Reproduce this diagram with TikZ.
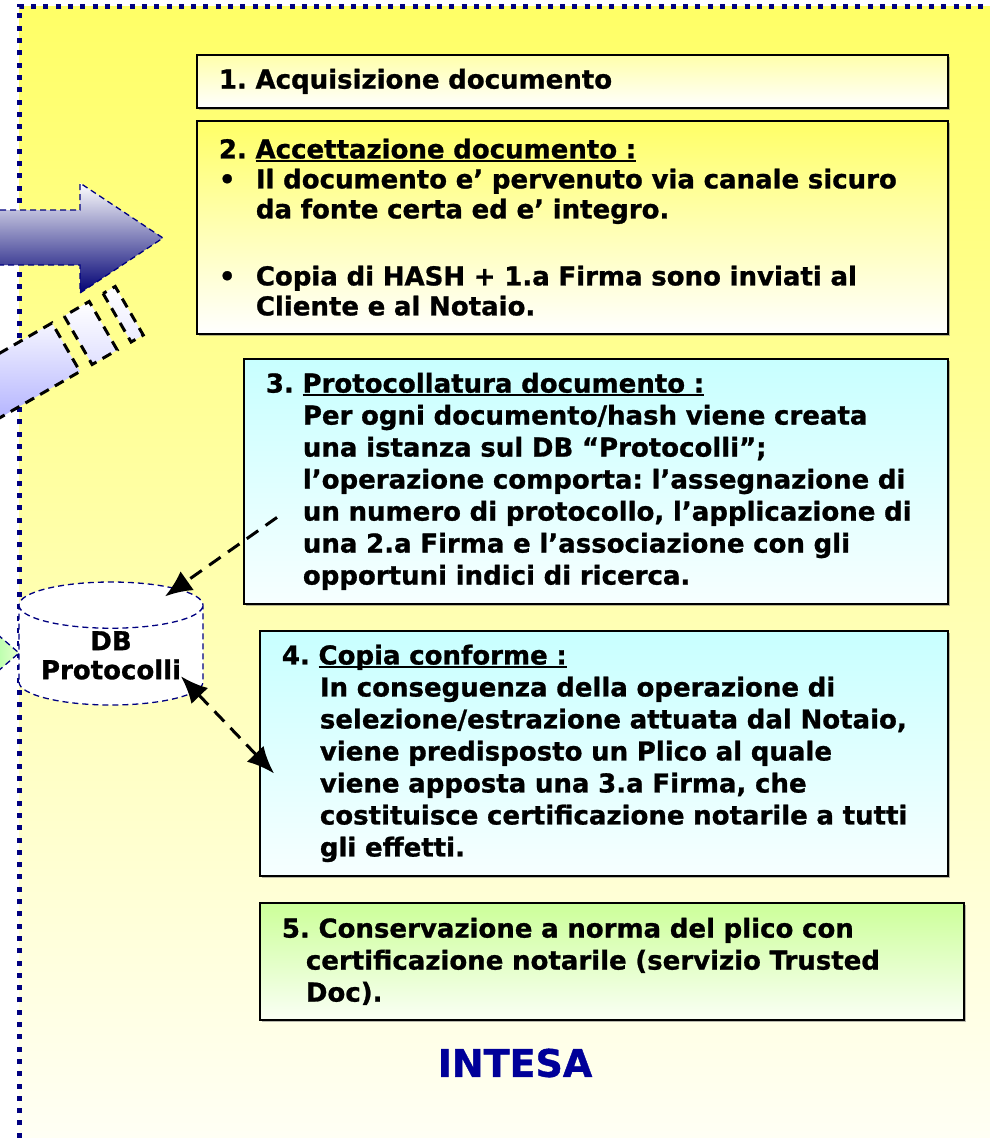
\documentclass[tikz,border=0pt]{standalone}
\usepackage{fontspec}
\setmainfont{DejaVu Sans}[BoldFeatures={FakeBold=1}]
\usetikzlibrary{shadows}
\usetikzlibrary{positioning}
\usetikzlibrary{arrows.meta}
\usetikzlibrary{shapes.geometric}
\usetikzlibrary{calc}
\frenchspacing

\definecolor{giallo}{HTML}{FFFF66}
\definecolor{gialloch}{HTML}{FFFFF6}
\definecolor{ciano}{HTML}{C8FFFF}
\definecolor{verdino}{HTML}{CCFF99}
\definecolor{blu}{HTML}{000080}
\definecolor{intesa}{HTML}{000099}

\newcommand\sotto[1]{\setbox0\hbox{#1}\rlap{\rule[-3.5pt]{\wd0}{2pt}}\box0}

\begin{document}
\begin{tikzpicture}[x=1pt, y=-1pt, box/.style={draw=black, line width=1.8pt, anchor=north west, align=left, inner xsep=22pt, inner ysep=0pt, font=\fontsize{26pt}{32pt}\selectfont\bfseries, drop shadow={shadow xshift=2pt, shadow yshift=-2pt, fill=black!55}}]
\tikzstyle{freccia}=[draw=black, line width=3pt, dash pattern=on 14pt off 9pt]
\tikzstyle{bordo}=[draw=blu, line width=1.3pt, dash pattern=on 6pt off 4pt]
\tikzstyle{fascia}=[draw=black, line width=3pt, dash pattern=on 10pt off 7pt]
\tikzstyle{testo}=[font=\fontsize{26pt}{29pt}\selectfont\bfseries]
\tikzset {>={Latex[length=27pt,width=23pt]}}

\useasboundingbox (0,0) rectangle (990,1138);
\clip (0,0) rectangle (990,1138);

% sfondo
\shade[top color=giallo, bottom color=gialloch] (19,6) rectangle (1000,1150);
\draw[blu, line width=5pt, dash pattern=on 5pt off 7.3pt] (19,1150) -- (19,6) -- (1000,6);

% frecce a sinistra
\draw[bordo, top color=white, bottom color=blu!90!black] (-10,210) -- (80,210) -- (80,183) -- (163,238) -- (80,293) -- (80,265) -- (-10,265) -- cycle;
\begin{scope}[shift={(52,323)}, rotate=30]
\draw[fascia, top color=blue!4!white, bottom color=blue!38!white] (-160,0) rectangle (0,56);
\draw[fascia, top color=white, bottom color=blue!12!white] (14,0) rectangle (43,56);
\draw[fascia, top color=white, bottom color=blue!8!white] (59,0) rectangle (73,56);
\end{scope}
\draw[bordo, left color=green!45!white, right color=verdino!50!white] (-25,615) -- (19,653) -- (-25,691);

% DB
\node (DB) [cylinder, shape border rotate=90, aspect=0.33, minimum width=184pt, minimum height=123pt, inner sep=0pt, bordo, fill=white, align=center, testo, anchor=shape center] at (111,643.5) {DB\\Protocolli};

% riquadri
\node (B1) [box, text width=707pt, minimum height=53pt, top color=giallo!55!white, bottom color=white] at (196,54) {1. Acquisizione documento};
\node (B2) [box, text width=707pt, minimum height=213pt, top color=giallo, bottom color=white, font=\fontsize{26pt}{30pt}\selectfont\bfseries, below=11pt of B1.south west, anchor=north west] {2. \sotto{Accettazione documento :}\\
\makebox[37pt][l]{•}Il documento e’ pervenuto via canale sicuro\\
\hspace*{37pt}da fonte certa ed e’ integro.\\[37pt]
\makebox[37pt][l]{•}Copia di HASH + 1.a Firma sono inviati al\\
\hspace*{37pt}Cliente e al Notaio.};
\node (B3) [box, text width=660pt, minimum height=245pt, top color=ciano, bottom color=ciano!15!white] at (243,358) {3. \sotto{Protocollatura documento :}\\
\hspace*{37pt}Per ogni documento/hash viene creata\\
\hspace*{37pt}una istanza sul DB “Protocolli”;\\
\hspace*{37pt}l’operazione comporta: l’assegnazione di\\
\hspace*{37pt}un numero di protocollo, l’applicazione di\\
\hspace*{37pt}una 2.a Firma e l’associazione con gli\\
\hspace*{37pt}opportuni indici di ricerca.};
\node (B4) [box, text width=644pt, minimum height=245pt, top color=ciano, bottom color=ciano!15!white] at (259,630) {4. \sotto{Copia conforme :}\\
\hspace*{38pt}In conseguenza della operazione di\\
\hspace*{38pt}selezione/estrazione attuata dal Notaio,\\
\hspace*{38pt}viene predisposto un Plico al quale\\
\hspace*{38pt}viene apposta una 3.a Firma, che\\
\hspace*{38pt}costituisce certificazione notarile a tutti\\
\hspace*{38pt}gli effetti.};
\node (B5) [box, text width=660pt, minimum height=117pt, top color=verdino, bottom color=verdino!10!white] at (259,902) {5. Conservazione a norma del plico con\\
\hspace*{24pt}certificazione notarile (servizio Trusted\\
\hspace*{24pt}Doc).};

% collegamenti
\draw [freccia, ->] ($(B3.west)+(34,36)$) -- ($(DB.north)+(54,15)$);
\draw [freccia, <->] ($(DB.north)+(70,95)$) -- ($(B4.west)+(15,20)$);

% logo
\node (INT) [text=intesa, font=\fontsize{38pt}{40pt}\selectfont\bfseries] at (515,1063) {INTESA};
\end{tikzpicture}
\end{document}
